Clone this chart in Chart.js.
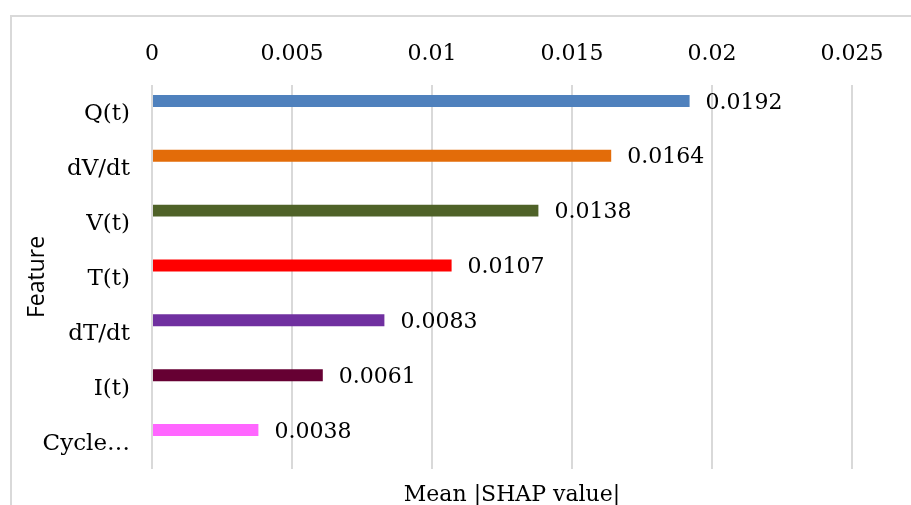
<!DOCTYPE html>
<html>
<head>
<meta charset="utf-8">
<script src="https://cdn.jsdelivr.net/npm/chart.js@4"></script>
<style>
  html, body { margin: 0; padding: 0; background: #fff; overflow: hidden; }
  #frame {
    position: absolute; left: 10px; top: 15px; width: 1000px; height: 600px;
    border-left: 2px solid #d9d9d9; border-top: 2px solid #d9d9d9;
  }
  #wrap { position: absolute; left: 0; top: 0; width: 911px; height: 505px; }
</style>
</head>
<body>
<div id="frame"></div>
<div id="wrap"><canvas id="chart" width="911" height="505"></canvas></div>
<script>
// Data
const features = ['Q(t)', 'dV/dt', 'V(t)', 'T(t)', 'dT/dt', 'I(t)', 'Cycle…'];
const shapValues = [0.0192, 0.0164, 0.0138, 0.0107, 0.0083, 0.0061, 0.0038];
const barColors = ['#4f81bd', '#e36c09', '#4f6228', '#ff0000', '#7030a0', '#660033', '#ff66ff'];
const xTicks = [0, 0.005, 0.01, 0.015, 0.02, 0.025];

const serif = 'DejaVu Serif';

// value labels at bar ends + bottom axis title
const labelPlugin = {
  id: 'valueLabels',
  afterDatasetsDraw(chart) {
    const ctx = chart.ctx;
    const meta = chart.getDatasetMeta(0);
    ctx.save();
    ctx.font = '22px "' + serif + '"';
    ctx.fillStyle = '#000';
    ctx.textAlign = 'left';
    ctx.textBaseline = 'middle';
    meta.data.forEach((bar, i) => {
      ctx.fillText(String(shapValues[i]), bar.x + 16, bar.y + 2);
    });
    ctx.textAlign = 'center';
    ctx.textBaseline = 'alphabetic';
    ctx.fillText('Mean |SHAP value|', 512, 501);
    ctx.restore();
  }
};

new Chart(document.getElementById('chart'), {
  type: 'bar',
  data: {
    labels: features,
    datasets: [
      {
        data: shapValues,
        backgroundColor: barColors,
        borderWidth: 0,
        categoryPercentage: 0.84,
        barPercentage: 0.52
      },
      {
        // empty second series keeps bars in the upper half of each band
        data: features.map(() => null),
        categoryPercentage: 0.84,
        barPercentage: 0.52
      }
    ]
  },
  options: {
    indexAxis: 'y',
    responsive: false,
    animation: false,
    layout: { padding: { left: 24, right: 59, top: 0, bottom: 36 } },
    plugins: {
      legend: { display: false },
      tooltip: { enabled: false }
    },
    scales: {
      x: {
        position: 'top',
        min: 0,
        max: 0.025,
        afterBuildTicks(scale) {
          scale.ticks = xTicks.map(v => ({ value: v }));
        },
        afterFit(scale) { scale.height = 85; },
        ticks: {
          color: '#000',
          padding: 18,
          font: { family: serif, size: 22 },
          callback: v => String(+v.toFixed(3))
        },
        grid: { color: '#d9d9d9', lineWidth: 2, drawTicks: false },
        border: { display: false }
      },
      y: {
        afterFit(scale) { scale.width = 128; },
        ticks: {
          color: '#000',
          padding: 22,
          labelOffset: 2,
          font: { family: serif, size: 23 }
        },
        grid: { display: false, drawTicks: false },
        border: { display: false },
        title: {
          display: true,
          text: 'Feature',
          color: '#000',
          padding: 0,
          font: { family: 'Open Sans', size: 23 }
        }
      }
    }
  },
  plugins: [labelPlugin]
});
</script>
</body>
</html>
